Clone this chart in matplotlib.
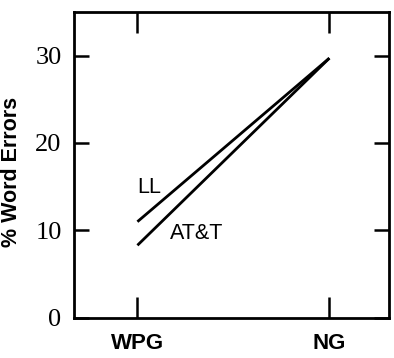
"""Word error rate: WPG vs NG grammar, for the LL and AT&T recognisers."""

import matplotlib
matplotlib.use('Agg')
import matplotlib.pyplot as plt

# ---------------------------------------------------------------------------
# Data
# ---------------------------------------------------------------------------
conditions = ['WPG', 'NG']
ll_errors = [11.0, 29.7]
att_errors = [8.3, 29.7]
y_ticks = [0, 10, 20, 30]

# ---------------------------------------------------------------------------
# Figure
# ---------------------------------------------------------------------------
fig = plt.figure(figsize=(3.94, 3.58), dpi=100)
ax = fig.add_axes([0.188, 0.112, 0.799, 0.855])

x = list(range(len(conditions)))
ax.plot(x, ll_errors, color='black', linewidth=2.0, solid_capstyle='butt')
ax.plot(x, att_errors, color='black', linewidth=2.0, solid_capstyle='butt')

ax.text(0.0, 14.9, 'LL', fontsize=15.5, family='Liberation Sans',
        ha='left', va='center')
ax.text(0.17, 9.6, 'AT&T', fontsize=15.5, family='Liberation Sans',
        ha='left', va='center')

ax.set_xlim(-0.33, 1.31)
ax.set_ylim(0, 35)

ax.set_xticks(x)
ax.set_xticklabels(conditions, family='Liberation Sans', fontweight='bold',
                   fontsize=16)
ax.set_yticks(y_ticks)
ax.set_yticklabels([str(v) for v in y_ticks], family='Liberation Serif',
                   fontsize=19)

ax.tick_params(axis='x', direction='in', length=15, width=1.8,
               top=True, pad=11)
ax.tick_params(axis='y', direction='in', length=11, width=1.8,
               right=True, pad=9)

for spine in ax.spines.values():
    spine.set_linewidth(2.0)

ax.set_ylabel('% Word Errors', family='Liberation Sans', fontweight='bold',
              fontsize=15.5)
ax.yaxis.set_label_coords(-0.165, 0.477)

fig.savefig('out.png', dpi=100)
plt.close(fig)
